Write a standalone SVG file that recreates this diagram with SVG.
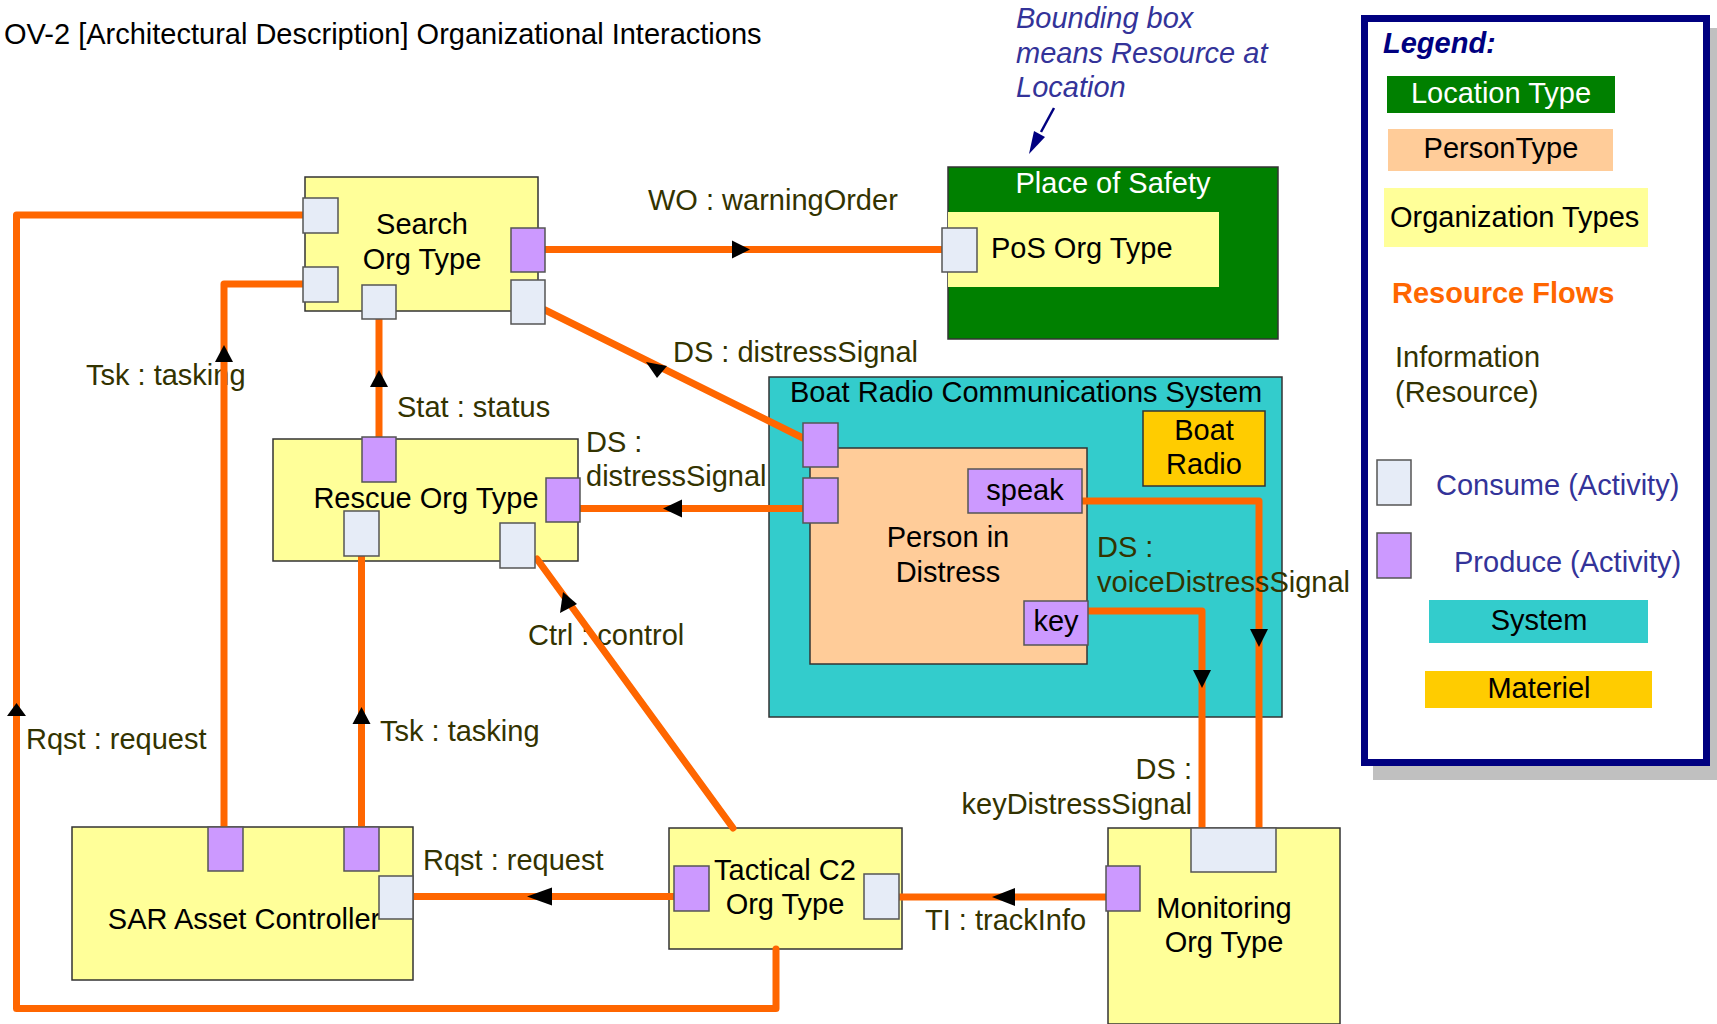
<svg xmlns="http://www.w3.org/2000/svg" width="1717" height="1024" viewBox="0 0 1717 1024">
<style>
text{font-family:"Liberation Sans",Arial,sans-serif;font-size:29px;fill:#000}
.lbl{fill:#333300}
.c{text-anchor:middle}
.org{fill:#FFFF99;stroke:#333;stroke-width:1.5}
.cons{fill:#E6ECF7;stroke:#555;stroke-width:1.5}
.prod{fill:#CC99FF;stroke:#555;stroke-width:1.5}
.flow{fill:none;stroke:#FF6600;stroke-width:7;stroke-linejoin:round;stroke-linecap:round}
.ah{fill:#000}
.note{fill:#333399;font-style:italic}
.blue{fill:#333399}
</style>
<rect width="1717" height="1024" fill="#fff"/>
<g id="title"><text x="4" y="44">OV-2 [Architectural Description] Organizational Interactions</text></g>
<g id="note">
<text class="note" x="1016" y="28">Bounding box</text>
<text class="note" x="1016" y="63">means Resource at</text>
<text class="note" x="1016" y="97">Location</text>
<line x1="1054" y1="108" x2="1041" y2="132" stroke="#000080" stroke-width="2.5"/>
<polygon points="1029,154 1034,131 1045,137" fill="#000080"/>
</g>
<g id="nodes">
<g id="place-of-safety"><rect x="948" y="167" width="330" height="172" fill="#008000" stroke="#333" stroke-width="1.5"/><text class="c" x="1113" y="193" style="fill:#fff">Place of Safety</text></g>
<g id="pos-org"><rect x="948" y="212" width="271" height="75" fill="#FFFF99"/><text x="991" y="258">PoS Org Type</text></g>
<g id="search-org"><rect class="org" x="305" y="177" width="233" height="134"/><text class="c" x="422" y="234">Search</text><text class="c" x="422" y="269">Org Type</text></g>
<g id="rescue-org"><rect class="org" x="273" y="439" width="305" height="122"/><text class="c" x="426" y="508">Rescue Org Type</text></g>
<g id="sar-controller"><rect class="org" x="72" y="827" width="341" height="153"/><text class="c" x="244" y="929">SAR Asset Controller</text></g>
<g id="tactical-c2"><rect class="org" x="669" y="828" width="233" height="121"/><text class="c" x="785" y="880">Tactical C2</text><text class="c" x="785" y="914">Org Type</text></g>
<g id="monitoring-org"><rect class="org" x="1108" y="828" width="232" height="196"/><text class="c" x="1224" y="918">Monitoring</text><text class="c" x="1224" y="952">Org Type</text></g>
<g id="boat-radio-system"><rect x="769" y="377" width="513" height="340" fill="#33CCCC" stroke="#333" stroke-width="1.5"/><text x="790" y="402">Boat Radio Communications System</text></g>
<g id="boat-radio"><rect x="1143" y="411" width="122" height="75" fill="#FFCC00" stroke="#333" stroke-width="1.5"/><text class="c" x="1204" y="440">Boat</text><text class="c" x="1204" y="474">Radio</text></g>
<g id="person-in-distress"><rect x="810" y="448" width="277" height="216" fill="#FFCC99" stroke="#333" stroke-width="1.5"/><text class="c" x="948" y="547">Person in</text><text class="c" x="948" y="582">Distress</text></g>
</g>
<g id="labels">
<text class="lbl" x="648" y="210">WO : warningOrder</text>
<text class="lbl" x="673" y="362">DS : distressSignal</text>
<text class="lbl" x="86" y="385">Tsk : tasking</text>
<text class="lbl" x="397" y="417">Stat : status</text>
<text class="lbl" x="586" y="452">DS :</text>
<text class="lbl" x="586" y="486">distressSignal</text>
<text class="lbl" x="528" y="645">Ctrl : control</text>
<text class="lbl" x="26" y="749">Rqst : request</text>
<text class="lbl" x="380" y="741">Tsk : tasking</text>
<text class="lbl" x="423" y="870">Rqst : request</text>
<text class="lbl" x="925" y="930">TI : trackInfo</text>
<text class="lbl" x="1097" y="557">DS :</text>
<text class="lbl" x="1192" y="779" text-anchor="end">DS :</text>
<text class="lbl" x="1192" y="814" text-anchor="end">keyDistressSignal</text>
</g>
<g id="connectors">
<polyline class="flow" points="303,215 16.5,215 16.5,1008.5 776,1008.5 776,949"/>
<polygon class="ah" points="16.5,703 26,716 7,716"/>
<polyline class="flow" points="303,284 224,284 224,827"/>
<polygon class="ah" points="224,345 233,362 215,362"/>
<line class="flow" x1="379" y1="437" x2="379" y2="319"/>
<polygon class="ah" points="379,370 388,387 370,387"/>
<line class="flow" x1="361.5" y1="827" x2="361.5" y2="556"/>
<polygon class="ah" points="361.5,707 370.5,724 352.5,724"/>
<line class="flow" x1="545" y1="249.5" x2="942" y2="249.5"/>
<polygon class="ah" points="750,249.5 732,240.5 732,258.5"/>
<line class="flow" x1="545" y1="310" x2="803" y2="438"/>
<polygon class="ah" points="646,362 667,366 657,378"/>
<line class="flow" x1="803" y1="508.5" x2="580" y2="508.5"/>
<polygon class="ah" points="663,508.5 682,499.5 682,517.5"/>
<line class="flow" x1="733" y1="828" x2="537" y2="559"/>
<polygon class="ah" points="563,592 577,604 560,613"/>
<line class="flow" x1="674" y1="896.5" x2="413" y2="896.5"/>
<polygon class="ah" points="527,896.5 552,887.5 552,905.5"/>
<line class="flow" x1="1106" y1="897" x2="899" y2="897"/>
<polygon class="ah" points="992,897 1015,888 1015,906"/>
<polyline class="flow" points="1082,501 1259,501 1259,828"/>
<polygon class="ah" points="1259,647 1250,629 1268,629"/>
<polyline class="flow" points="1088,611 1202,611 1202,828"/>
<polygon class="ah" points="1202,688 1193,670 1211,670"/>
</g>
<g id="labels-top">
<text class="lbl" x="1097" y="592">voiceDistressSignal</text>
</g>
<g id="ports">
<rect id="search-p1" class="cons" x="303" y="198" width="35" height="35"/>
<rect id="search-p2" class="cons" x="303" y="267" width="35" height="35"/>
<rect id="search-p3" class="cons" x="362" y="285" width="34" height="34"/>
<rect id="search-p4" class="prod" x="511" y="228" width="34" height="44"/>
<rect id="search-p5" class="cons" x="511" y="280" width="34" height="44"/>
<rect id="rescue-p1" class="prod" x="362" y="437" width="34" height="45"/>
<rect id="rescue-p2" class="prod" x="546" y="478" width="34" height="44"/>
<rect id="rescue-p3" class="cons" x="344" y="511" width="35" height="45"/>
<rect id="rescue-p4" class="cons" x="500" y="523" width="35" height="45"/>
<rect id="sar-p1" class="prod" x="208" y="827" width="35" height="44"/>
<rect id="sar-p2" class="prod" x="344" y="827" width="35" height="44"/>
<rect id="sar-p3" class="cons" x="379" y="876" width="34" height="43"/>
<rect id="tactical-p1" class="prod" x="674" y="866" width="35" height="45"/>
<rect id="tactical-p2" class="cons" x="864" y="874" width="35" height="45"/>
<rect id="monitoring-p1" class="cons" x="1191" y="828" width="85" height="44"/>
<rect id="monitoring-p2" class="prod" x="1106" y="866" width="34" height="45"/>
<rect id="pos-p1" class="cons" x="942" y="228" width="35" height="44"/>
<rect id="boat-p1" class="prod" x="803" y="423" width="35" height="44"/>
<rect id="boat-p2" class="prod" x="803" y="478" width="35" height="45"/>
<g id="speak"><rect class="prod" x="968" y="469" width="114" height="44"/><text class="c" x="1025" y="500">speak</text></g>
<g id="key"><rect class="prod" x="1024" y="601" width="64" height="44"/><text class="c" x="1056" y="631">key</text></g>
</g>
<g id="legend">
<rect x="1373" y="28" width="350" height="752" fill="#C0C0C0"/>
<rect x="1364.5" y="18.5" width="342" height="744" fill="#fff" stroke="#000080" stroke-width="7"/>
<text x="1383" y="53" style="font-weight:bold;font-style:italic;fill:#000080">Legend:</text>
<rect x="1387" y="76" width="228" height="37" fill="#008000"/>
<text class="c" x="1501" y="103" style="fill:#fff">Location Type</text>
<rect x="1388" y="129" width="225" height="42" fill="#FFCC99"/>
<text class="c" x="1501" y="158">PersonType</text>
<rect x="1384" y="188" width="264" height="59" fill="#FFFF99"/>
<text x="1390" y="227">Organization Types</text>
<text x="1392" y="303" style="font-weight:bold;fill:#FF6600">Resource Flows</text>
<text class="lbl" x="1395" y="367">Information</text>
<text class="lbl" x="1395" y="402">(Resource)</text>
<rect class="cons" x="1377" y="460" width="34" height="45"/>
<text class="blue" x="1436" y="495">Consume (Activity)</text>
<rect class="prod" x="1377" y="533" width="34" height="45"/>
<text class="blue" x="1454" y="572">Produce (Activity)</text>
<rect x="1429" y="600" width="219" height="43" fill="#33CCCC"/>
<text class="c" x="1539" y="630">System</text>
<rect x="1425" y="671" width="227" height="37" fill="#FFCC00"/>
<text class="c" x="1539" y="698">Materiel</text>
</g>
</svg>
